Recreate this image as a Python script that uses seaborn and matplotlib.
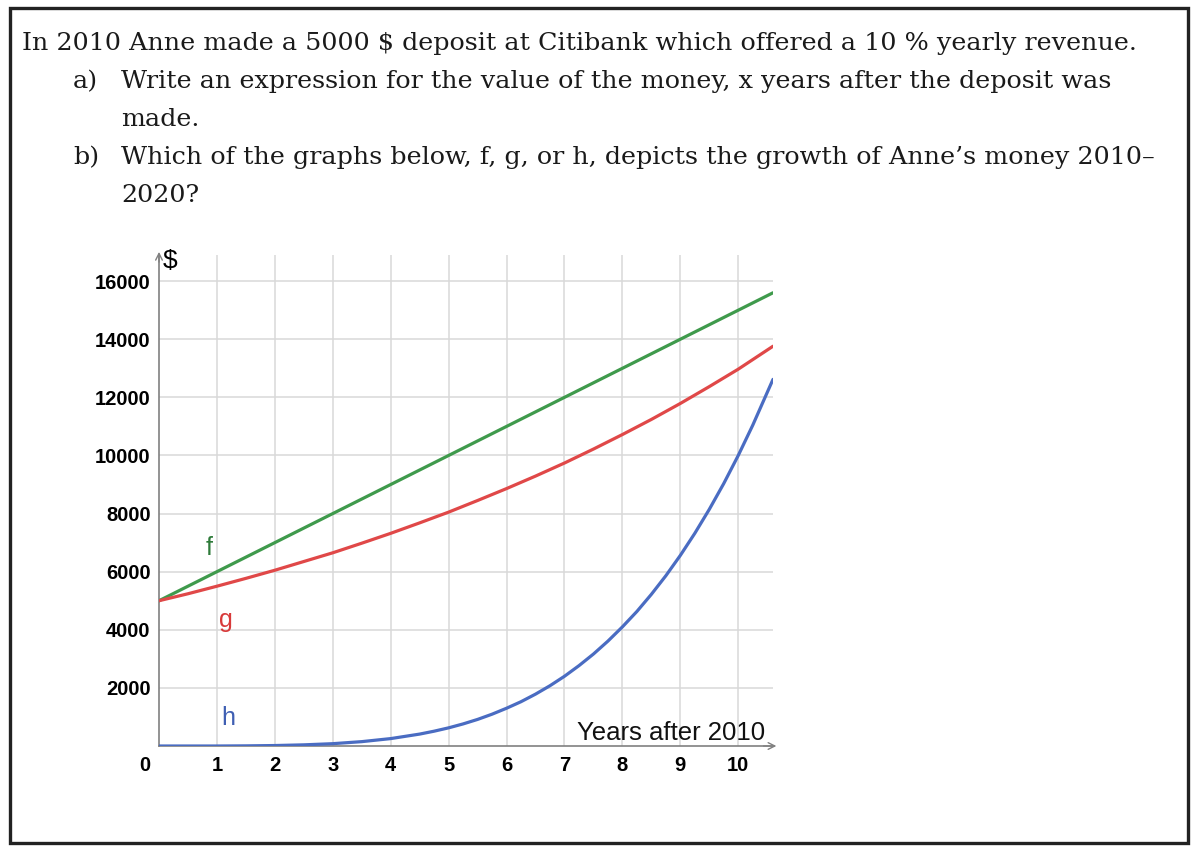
import numpy as np
import pandas as pd
import matplotlib
matplotlib.use('Agg')
import matplotlib.pyplot as plt
from matplotlib.patches import Rectangle
import seaborn as sns

# Values (years after 2010 -> dollars)
years = [0, 0.5, 1, 1.5, 2, 2.5, 3, 3.5, 4, 4.5, 5, 5.5, 6, 6.5, 7, 7.5, 8, 8.5, 9, 9.5, 10, 10.6]
f_values = [5000, 5500, 6000, 6500, 7000, 7500, 8000, 8500, 9000, 9500, 10000, 10500,
            11000, 11500, 12000, 12500, 13000, 13500, 14000, 14500, 15000, 15600]
g_values = [5000, 5240, 5500, 5770, 6050, 6350, 6650, 6980, 7320, 7680, 8050, 8450,
            8860, 9290, 9740, 10220, 10720, 11240, 11790, 12370, 12970, 13760]

# h bends sharply, so it was read more densely
h_years = [0, 0.5, 1, 1.5, 2, 2.5, 3, 3.5, 4, 4.5, 4.75, 5, 5.25, 5.5, 5.75, 6, 6.25, 6.5, 6.75,
           7, 7.25, 7.5, 7.75, 8, 8.25, 8.5, 8.75, 9, 9.25, 9.5, 9.75, 10, 10.25, 10.6]
h_values = [0, 0, 0, 5, 16, 40, 80, 150, 255, 410, 510, 625, 760, 915, 1095, 1300, 1525, 1785, 2075,
            2400, 2765, 3165, 3610, 4100, 4630, 5220, 5860, 6560, 7320, 8145, 9035, 10000, 11040, 12620]

x_ticks = [1, 2, 3, 4, 5, 6, 7, 8, 9, 10]
y_ticks = [2000, 4000, 6000, 8000, 10000, 12000, 14000, 16000]

question = "In 2010 Anne made a 5000 $ deposit at Citibank which offered a 10 % yearly revenue."
part_a = ["a)", "Write an expression for the value of the money, x years after the deposit was", "made."]
part_b = ["b)", "Which of the graphs below, f, g, or h, depicts the growth of Anne\u2019s money 2010\u2013", "2020?"]

colors = {'f': '#3f9a4c', 'g': '#e04848', 'h': '#4a6cc2'}
label_colors = {'f': '#2e7b3a', 'g': '#d83a3a', 'h': '#3f5fb3'}

lin = pd.DataFrame({'x': years, 'f': f_values, 'g': g_values})
hdf = pd.DataFrame({'x': h_years, 'h': h_values})

sns.set_theme(style='white')
plt.rcParams['font.family'] = ['Liberation Sans', 'DejaVu Sans']

fig = plt.figure(figsize=(12, 8.51), dpi=100)
ax = fig.add_axes([159 / 1200, 1 - 746 / 851, (773 - 159) / 1200, (746 - 255) / 851])

sns.lineplot(data=lin, x='x', y='f', ax=ax, color=colors['f'], linewidth=2.3, zorder=3)
sns.lineplot(data=lin, x='x', y='g', ax=ax, color=colors['g'], linewidth=2.3, zorder=3)
sns.lineplot(data=hdf, x='x', y='h', ax=ax, color=colors['h'], linewidth=2.3, zorder=3)

ax.set_xlim(0, 10.6)
ax.set_ylim(0, 16900)
ax.set_xticks(x_ticks)
ax.set_yticks(y_ticks)
ax.set_xticklabels([str(t) for t in x_ticks], fontweight='bold', fontsize=14.5)
ax.set_yticklabels([str(t) for t in y_ticks], fontweight='bold', fontsize=14.5)
ax.tick_params(axis='x', length=0, pad=7, colors='black')
ax.tick_params(axis='y', length=0, pad=6, colors='black')
ax.set_xlabel('')
ax.set_ylabel('')
ax.grid(True, color='#d8d8d8', linewidth=1.1)
ax.set_axisbelow(True)

for side in ['top', 'right']:
    ax.spines[side].set_visible(False)
for side in ['left', 'bottom']:
    ax.spines[side].set_color('#808080')
    ax.spines[side].set_linewidth(1.2)

# axis arrows
ax.annotate('', xy=(0, 1.012), xytext=(0, 0.98), xycoords='axes fraction',
            arrowprops=dict(arrowstyle='->', color='#808080', lw=1.0), annotation_clip=False)
ax.annotate('', xy=(1.01, 0), xytext=(0.98, 0), xycoords='axes fraction',
            arrowprops=dict(arrowstyle='->', color='#808080', lw=1.0), annotation_clip=False)

# origin label and axis titles
ax.annotate('0', xy=(0, 0), xytext=(-10, -7), textcoords='offset points', xycoords='data',
            ha='center', va='top', fontsize=14.5, fontweight='bold', color='black',
            annotation_clip=False)
ax.annotate('$', xy=(0, 1.0), xytext=(3, 4), textcoords='offset points', xycoords='axes fraction',
            ha='left', va='top', fontsize=19, color='black', annotation_clip=False)
ax.annotate('Years after 2010', xy=(0.987, 0), xytext=(0, 1), textcoords='offset points',
            xycoords='axes fraction', ha='right', va='bottom', fontsize=18.5, color='#111111',
            annotation_clip=False)

# curve names
ax.text(0.86, 6830, 'f', color=label_colors['f'], fontsize=18, ha='center', va='center')
ax.text(1.16, 4345, 'g', color=label_colors['g'], fontsize=18, ha='center', va='center')
ax.text(1.2, 965, 'h', color=label_colors['h'], fontsize=18, ha='center', va='center')

# question text
serif = ['DejaVu Serif']
fs = 18.3
tc = '#1a1a1a'
fig.text(22 / 1200, 1 - 50 / 851, question, family=serif, fontsize=fs, va='baseline', color=tc)
fig.text(73 / 1200, 1 - 88 / 851, part_a[0], family=serif, fontsize=fs, va='baseline', color=tc)
fig.text(121 / 1200, 1 - 88 / 851, part_a[1], family=serif, fontsize=fs, va='baseline', color=tc)
fig.text(121 / 1200, 1 - 126 / 851, part_a[2], family=serif, fontsize=fs, va='baseline', color=tc)
fig.text(73 / 1200, 1 - 164 / 851, part_b[0], family=serif, fontsize=fs, va='baseline', color=tc)
fig.text(121 / 1200, 1 - 164 / 851, part_b[1], family=serif, fontsize=fs, va='baseline', color=tc)
fig.text(121 / 1200, 1 - 202 / 851, part_b[2], family=serif, fontsize=fs, va='baseline', color=tc)

# frame around the whole exercise
fig.patches.append(Rectangle((10 / 1200, 1 - 843 / 851), (1188 - 10) / 1200, (843 - 8) / 851,
                             transform=fig.transFigure, fill=False, edgecolor='#222222', linewidth=2.4))

fig.savefig('out.png', dpi=100)
